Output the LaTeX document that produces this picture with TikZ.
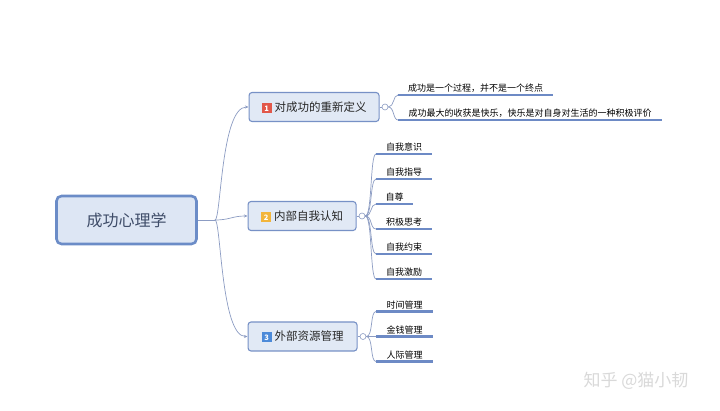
\documentclass[tikz,border=0pt]{standalone}
\usepackage{fontspec}
\setmainfont{Noto Sans CJK SC}
\usepackage{xcolor}
\usetikzlibrary{positioning,arrows.meta}
\definecolor{mainline}{HTML}{6B8CC7}
\definecolor{mainfill}{HTML}{DDE6F4}
\definecolor{maintext}{HTML}{3E4C68}
\definecolor{topicline}{HTML}{7791C6}
\definecolor{topicfill}{HTML}{E1E9F5}
\definecolor{wirec}{HTML}{8C9CC3}
\definecolor{ulinec}{HTML}{6D8AC5}
\definecolor{badgered}{HTML}{E2584A}
\definecolor{badgeyel}{HTML}{F2B53C}
\definecolor{badgeblue}{HTML}{4C8AD9}
\newcommand{\badge}[2]{{\setlength{\fboxsep}{0pt}\colorbox{#1}{\rule[-1.5pt]{0pt}{10pt}\makebox[10pt]{\color{white}\fontsize{7.5}{8}\selectfont\bfseries #2}}}\hspace{3pt}}

\begin{document}
\begin{tikzpicture}[
  x=1pt, y=-1pt,
  font=\fontsize{9}{10}\selectfont,
  mainbox/.style={draw=mainline, line width=2.6pt, fill=mainfill, rounded corners=5pt, minimum width=140pt, minimum height=48pt, font=\fontsize{16}{18}\selectfont, text=maintext},
  topic/.style={draw=topicline, line width=1.1pt, fill=topicfill, rounded corners=3pt, minimum height=29pt, inner xsep=0pt, anchor=west, font=\fontsize{11.5}{13}\selectfont, text=black!85},
  knob/.style={circle, draw=wirec, fill=white, line width=0.6pt, minimum size=6pt, inner sep=0pt},
  leaf/.style={anchor=south west, align=center, inner xsep=0pt, inner ysep=2.5pt},
  wire/.style={draw=wirec, line width=0.7pt},
  arr/.style={wire, -{Stealth[length=3.5pt,width=3pt]}},
  uline/.style={draw=ulinec, line width=2.2pt}]
\useasboundingbox (0,0) rectangle (720,411);
\fill[white] (0,0) rectangle (720,411);

\node[mainbox] (m) at (126.5,220) {成功心理学};
\coordinate (j) at (215,220);

\node[topic, minimum width=130pt] (b1) at (248.5,107) {\badge{badgered}{1}对成功的重新定义};
\node[topic, minimum width=108pt] (b2) at (247.5,216) {\badge{badgeyel}{2}内部自我认知};
\node[topic, minimum width=109pt] (b3) at (247.5,336.5) {\badge{badgeblue}{3}外部资源管理};

\draw[wire] (m.east) -- (j);
\draw[arr] (j) .. controls (221,220) and (221,107) .. (b1.west);
\draw[arr] (j) .. controls (230,220) and (232,216) .. (b2.west);
\draw[arr] (j) .. controls (221,220) and (221,336.5) .. (b3.west);

\node[knob] (c1) at (385,107) {};
\node[knob] (c2) at (362,216) {};
\node[knob] (c3) at (363,336.5) {};
\draw[wire] (b1.east) -- (c1.west);
\draw[wire] (b2.east) -- (c2.west);
\draw[wire] (b3.east) -- (c3.west);

\foreach \t/\w/\y [count=\i] in {成功是一个过程，并不是一个终点/155/95, 成功最大的收获是快乐，快乐是对自身对生活的一种积极评价/264/120} {
  \node[leaf, text width=\w pt] (l1\i) at (398,\y) {\t};
  \draw[wire] (c1.east) .. controls +(6,0) and +(-5,0) .. (l1\i.south west);
  \draw[uline] (l1\i.south west) -- (l1\i.south east);
}

\foreach \t/\w [count=\i] in {自我意识/56, 自我指导/56, 自尊/37, 积极思考/56, 自我约束/56, 自我激励/56} {
  \node[leaf, text width=\w pt] (l2\i) at (376,{154+25*(\i-1)}) {\t};
  \draw[wire] (c2.east) .. controls +(7,0) and +(-6,0) .. (l2\i.south west);
  \draw[uline] (l2\i.south west) -- (l2\i.south east);
}

\foreach \t [count=\i] in {时间管理, 金钱管理, 人际管理} {
  \node[leaf, text width=57pt] (l3\i) at (376,{311.5+25*(\i-1)}) {\t};
  \draw[wire] (c3.east) .. controls +(7,0) and +(-6,0) .. (l3\i.south west);
  \draw[uline] (l3\i.south west) -- (l3\i.south east);
}

\node[text=gray!30, font=\fontsize{17}{20}\selectfont] (wm) at (636,381) {知乎 @猫小韧};
\end{tikzpicture}
\end{document}
